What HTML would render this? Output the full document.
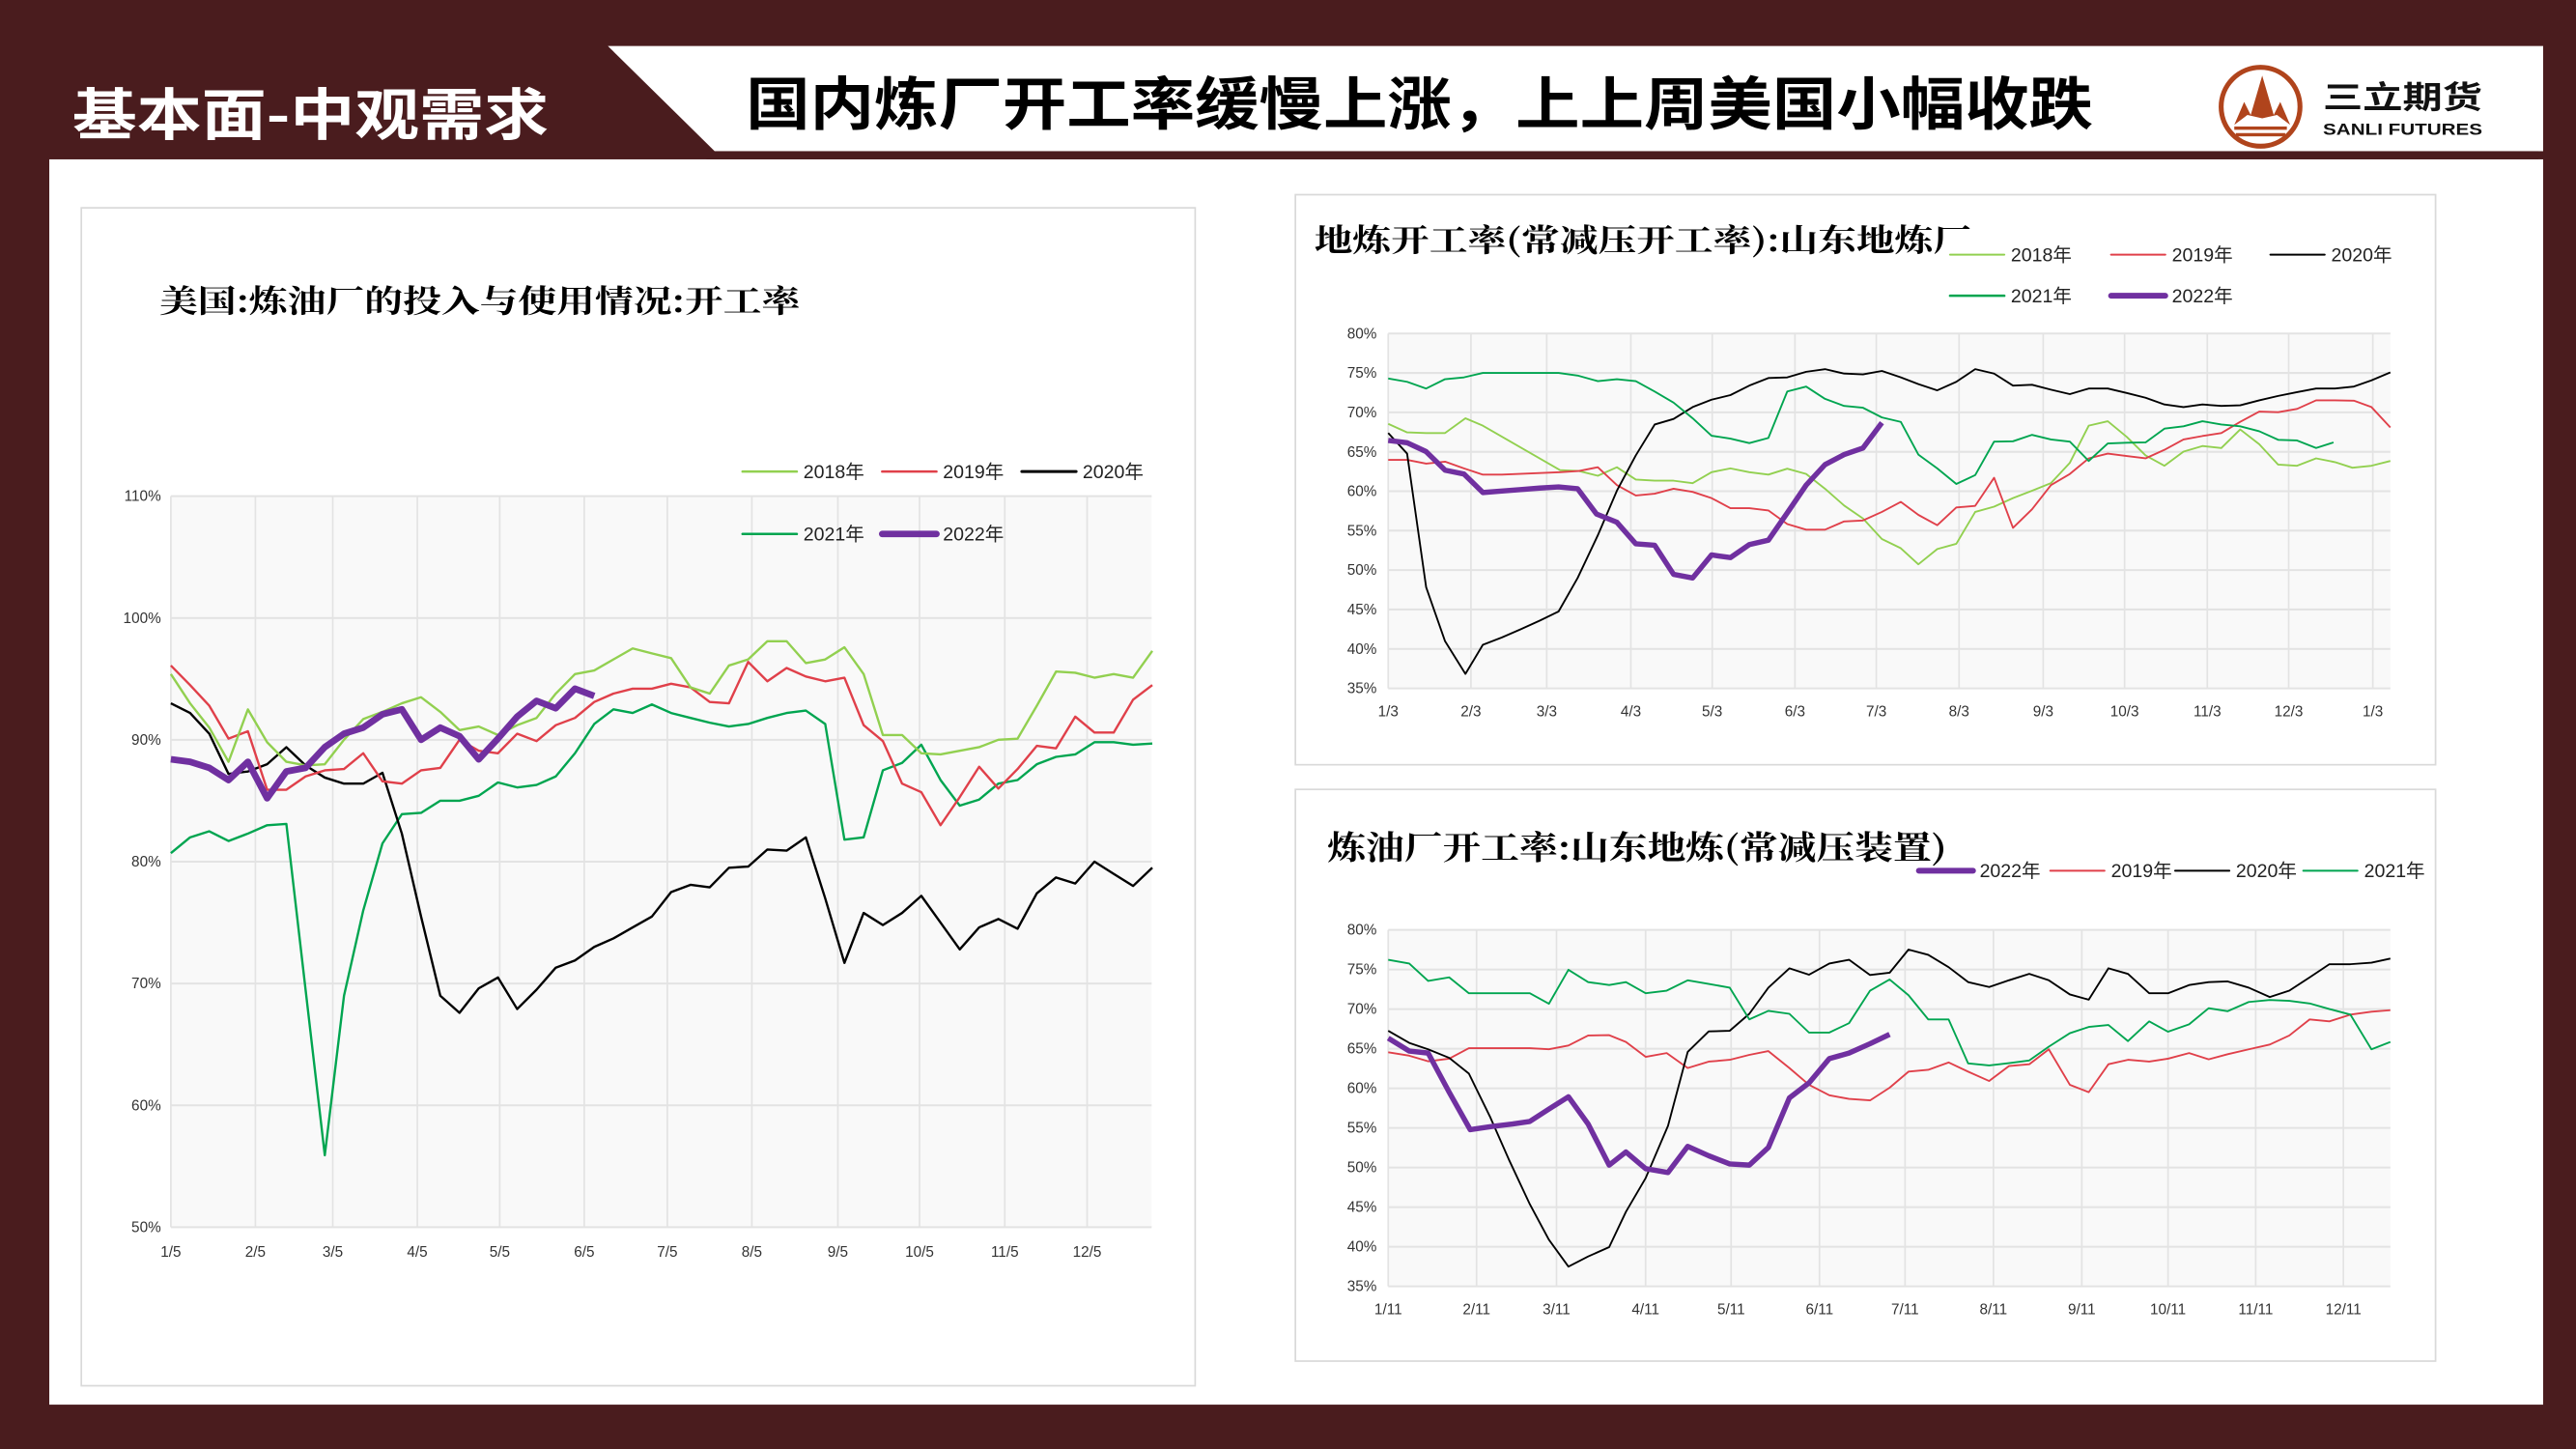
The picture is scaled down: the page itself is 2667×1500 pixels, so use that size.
<!DOCTYPE html>
<html><head><meta charset="utf-8">
<style>
html,body{margin:0;padding:0;background:#4a1c1e;}
svg{display:block;}
text{font-family:"Liberation Sans","Noto Sans CJK SC",sans-serif;}
.cj{font-family:"Noto Serif CJK SC","Noto Sans CJK SC",serif;font-weight:bold;}
.tk{font-family:"Liberation Sans Narrow","Liberation Sans",sans-serif;font-size:9px;fill:#333;}
.lg{font-family:"Liberation Sans Narrow","Liberation Sans","Noto Sans CJK SC",sans-serif;font-size:11.5px;fill:#222;}
</style></head>
<body>
<svg id="s" width="2667" height="1500" viewBox="0 0 1568 882" preserveAspectRatio="none" xmlns="http://www.w3.org/2000/svg">
<rect x="0" y="0" width="1568" height="882" fill="#4a1c1e"/>
<rect x="30" y="97" width="1518" height="758" fill="#ffffff"/>
<polygon points="370,28 1548,28 1548,92 435,92" fill="#ffffff"/>
<rect x="430" y="92" width="1115" height="5" fill="#4a1c1e"/>
<text x="44" y="82" font-size="34" fill="#ffffff" textLength="290" lengthAdjust="spacingAndGlyphs" style="font-family:'Noto Sans CJK SC',sans-serif;font-weight:bold">基本面-中观需求</text>
<text x="454" y="76" font-size="35" fill="#000" textLength="820" lengthAdjust="spacingAndGlyphs" style="font-family:'Noto Sans CJK SC',sans-serif;font-weight:bold">国内炼厂开工率缓慢上涨，上上周美国小幅收跌</text>
<circle cx="1376" cy="65" r="24" fill="#fff" stroke="#b0441c" stroke-width="3"/>
<polygon points="1360,76 1366,62 1370,70 1377,46 1384,70 1388,62 1394,76 1386,70 1377,72 1368,70" fill="#b0441c"/>
<rect x="1360" y="77" width="32" height="2" fill="#b0441c"/><rect x="1361" y="81" width="30" height="2" fill="#b0441c"/>
<text x="1414" y="66" font-size="19" font-weight="bold" fill="#111" textLength="97" lengthAdjust="spacingAndGlyphs" style="font-family:'Noto Sans CJK SC',sans-serif">三立期货</text>
<text x="1414" y="82" font-size="9.5" font-weight="bold" fill="#111" textLength="97" lengthAdjust="spacingAndGlyphs">SANLI FUTURES</text>
<rect x="49.5" y="126.5" width="678" height="717" fill="#fff" stroke="#d9d9d9"/>
<rect x="788.5" y="118.5" width="694" height="347" fill="#fff" stroke="#d9d9d9"/>
<rect x="788.5" y="480.5" width="694" height="348" fill="#fff" stroke="#d9d9d9"/>
<text x="97" y="190" font-size="19" class="cj" textLength="390" lengthAdjust="spacingAndGlyphs">美国:炼油厂的投入与使用情况:开工率</text>
<text x="800" y="153" font-size="19" class="cj" textLength="400" lengthAdjust="spacingAndGlyphs">地炼开工率(常减压开工率):山东地炼厂</text>
<text x="808" y="523" font-size="20" class="cj" textLength="377" lengthAdjust="spacingAndGlyphs">炼油厂开工率:山东地炼(常减压装置)</text>
<g id="g"></g>
</svg>
<script>
var NS="http://www.w3.org/2000/svg",G=document.getElementById("g");
function el(t,a,txt){var e=document.createElementNS(NS,t);for(var k in a)e.setAttribute(k,a[k]);if(txt!=null)e.textContent=txt;G.appendChild(e);return e;}
var C={y18:"#92d050",y19:"#e0404a",y20:"#000",y21:"#00a550",y22:"#7030a0"};
function lg(x,y,c,w,t){el("line",{x1:x,y1:y,x2:x+33,y2:y,stroke:c,"stroke-width":w,"stroke-linecap":"round"});el("text",{x:x+37,y:y+4,"class":"lg"},t);}
(function(){
 var L=104,R=701,T=302,B=747;
 el("rect",{x:L,y:T,width:R-L,height:B-T,fill:"#f9f9f9"});
 var mz=[133,251,359,477,592,710,826,944,1064,1178,1297,1412],ml=["1/5","2/5","3/5","4/5","5/5","6/5","7/5","8/5","9/5","10/5","11/5","12/5"];
 function X(z){return L+(z-133)/(1502-133)*(R-L);}
 mz.forEach(function(z,i){var x=X(z);el("line",{x1:x,y1:T,x2:x,y2:B,stroke:"#e3e3e3","stroke-width":1});el("text",{x:x,y:B+18,"class":"tk","text-anchor":"middle"},ml[i]);});
 for(var v=50;v<=110;v+=10){var y=T+(110-v)/60*(B-T);el("line",{x1:L,y1:y,x2:R,y2:y,stroke:"#e3e3e3","stroke-width":1.2});el("text",{x:L-6,y:y+3,"class":"tk","text-anchor":"end"},v+"%");}
 var D={
 y18:[95.4,93,91,88.2,92.5,89.8,88.2,87.9,88,90,91.7,92.3,93,93.5,92.3,90.8,91.1,90.4,91.2,91.8,93.8,95.4,95.7,96.6,97.5,97.1,96.7,94.3,93.8,96.1,96.6,98.1,98.1,96.3,96.6,97.6,95.4,90.4,90.4,88.9,88.8,89.1,89.4,90,90.1,92.8,95.6,95.5,95.1,95.4,95.1,97.3],
 y19:[96.1,94.5,92.8,90.1,90.7,85.9,85.9,87,87.5,87.6,88.9,86.6,86.4,87.5,87.7,90,89.1,88.9,90.5,89.9,91.2,91.8,93.1,93.8,94.2,94.2,94.6,94.3,93.1,93,96.4,94.8,95.9,95.2,94.8,95.1,91.2,89.9,86.4,85.7,83,85.3,87.8,86,87.6,89.5,89.3,91.9,90.6,90.6,93.3,94.5],
 y20:[93,92.2,90.5,87.2,87.4,88,89.4,87.9,86.9,86.4,86.4,87.3,82.3,75.5,69,67.6,69.6,70.5,67.9,69.5,71.3,71.9,73,73.7,74.6,75.5,77.5,78.1,77.9,79.5,79.6,81,80.9,82,77,71.7,75.8,74.8,75.8,77.2,75,72.8,74.6,75.3,74.5,77.4,78.7,78.2,80,79,78,79.5],
 y21:[80.7,82,82.5,81.7,82.3,83,83.1,69.5,55.9,69,76,81.5,83.9,84,85,85,85.4,86.5,86.1,86.3,87,88.9,91.3,92.5,92.2,92.9,92.2,91.8,91.4,91.1,91.3,91.8,92.2,92.4,91.3,81.8,82,87.5,88.1,89.6,86.7,84.6,85.1,86.4,86.7,88,88.6,88.8,89.8,89.8,89.6,89.7],
 y22:[88.4,88.2,87.7,86.7,88.2,85.2,87.4,87.7,89.4,90.5,91,92.1,92.5,90,91,90.3,88.4,90.1,91.9,93.2,92.6,94.2,93.6]};
 ["y21","y20","y19","y18","y22"].forEach(function(k){var p=D[k].map(function(v,i){return X(133+i*26.86).toFixed(1)+","+(T+(110-v)/60*(B-T)).toFixed(1);}).join(" ");
  el("polyline",{points:p,fill:"none",stroke:C[k],"stroke-width":k=="y22"?4:1.4,"stroke-linejoin":"round"});});
 lg(452,287,C.y18,1.5,"2018年");lg(537,287,C.y19,1.5,"2019年");lg(622,287,C.y20,1.8,"2020年");
 lg(452,325,C.y21,1.5,"2021年");lg(537,325,C.y22,4,"2022年");
})();
function chart(L,R,T,B,zB,zT,mz,ml,D,order){
 el("rect",{x:L,y:T,width:R-L,height:B-T,fill:"#f9f9f9"});
 function X(z){return L+(z-133)/(1562-133)*(R-L);}
 function Y(z){return T+(z-zT)/(zB-zT)*(B-T);}
 mz.forEach(function(z,i){var x=X(z);el("line",{x1:x,y1:T,x2:x,y2:B,stroke:"#e3e3e3","stroke-width":1});el("text",{x:x,y:B+17,"class":"tk","text-anchor":"middle"},ml[i]);});
 for(var v=35;v<=80;v+=5){var y=T+(80-v)/45*(B-T);el("line",{x1:L,y1:y,x2:R,y2:y,stroke:"#e3e3e3","stroke-width":1.2});el("text",{x:L-7,y:y+3,"class":"tk","text-anchor":"end"},v+"%");}
 order.forEach(function(k){var a=D[k],p=[];for(var i=0;i<a.length;i+=2)p.push(X(a[i]).toFixed(1)+","+Y(a[i+1]).toFixed(1));
  el("polyline",{points:p.join(" "),fill:"none",stroke:C[k],"stroke-width":k=="y22"?3.2:1.1,"stroke-linejoin":"round"});});
}
chart(845,1455,203,419,1337,382,[133,251,359,479,595,713,829,947,1067,1183,1301,1417,1537],["1/3","2/3","3/3","4/3","5/3","6/3","7/3","8/3","9/3","10/3","11/3","12/3","1/3"],{
y18:[133,625,160,648,187,650,214,650,243,610,268,630,378,750,405,752,432,765,459,742,486,775,513,778,540,778,567,785,594,755,621,745,648,755,675,762,702,746,729,760,756,800,783,845,810,880,837,935,864,960,889,1003,916,962,943,948,970,862,997,848,1024,825,1051,805,1078,785,1105,730,1132,630,1159,618,1186,660,1213,710,1240,738,1267,700,1294,685,1321,690,1348,640,1375,680,1402,735,1429,738,1456,718,1483,728,1508,743,1535,738,1562,725],
y19:[133,722,160,722,187,732,214,727,241,745,268,762,295,762,378,755,405,752,432,742,459,790,486,818,513,813,540,800,567,808,594,825,621,852,648,852,675,858,702,895,729,910,756,910,783,888,810,885,837,862,864,835,889,870,916,898,943,850,970,846,997,770,1024,905,1051,855,1078,790,1105,760,1132,718,1159,705,1186,712,1213,718,1240,695,1267,667,1294,658,1321,650,1348,620,1375,592,1402,594,1429,585,1456,562,1483,562,1510,563,1535,580,1562,635],
y20:[133,650,160,705,187,1065,214,1210,243,1298,268,1220,295,1200,322,1178,349,1155,376,1130,403,1040,432,925,459,805,486,710,513,627,540,612,567,580,594,560,621,548,648,522,675,502,702,500,729,485,756,478,783,490,810,492,837,483,864,500,889,518,916,535,943,512,970,478,997,490,1024,522,1051,520,1078,533,1105,545,1132,530,1159,530,1186,542,1213,555,1240,573,1267,580,1294,573,1321,577,1348,575,1375,562,1402,550,1429,540,1456,530,1483,530,1510,525,1535,508,1562,487],
y21:[133,503,160,512,187,530,214,505,241,500,268,488,295,488,322,488,349,488,376,488,403,495,432,510,459,505,486,510,513,538,540,568,567,610,594,657,621,665,648,677,675,663,702,538,729,525,756,558,783,577,810,582,837,608,864,620,889,708,916,745,943,787,970,763,997,673,1024,672,1051,655,1078,667,1105,673,1132,725,1159,678,1186,676,1213,675,1240,638,1267,632,1294,618,1321,627,1348,632,1375,645,1402,668,1429,670,1456,690,1481,675],
y22:[133,670,160,676,187,700,214,750,241,760,268,810,295,806,322,802,349,798,376,795,403,800,430,868,459,890,486,948,513,952,540,1030,567,1040,594,978,621,985,648,950,675,938,702,865,729,790,756,735,783,708,810,690,837,622]},["y18","y19","y20","y21","y22"]);
lg(1187,155,C.y18,1.2,"2018年");lg(1285,155,C.y19,1.2,"2019年");lg(1382,155,C.y20,1.2,"2020年");
lg(1187,180,C.y21,1.5,"2021年");lg(1285,180,C.y22,3.5,"2022年");
chart(845,1455,566,783,1340,385,[133,259,373,500,622,748,870,996,1122,1245,1370,1495],["1/11","2/11","3/11","4/11","5/11","6/11","7/11","8/11","9/11","10/11","11/11","12/11"],{
y22:[133,675,163,710,190,715,220,820,250,920,280,912,310,905,335,898,362,865,390,832,418,905,448,1015,472,980,500,1025,532,1035,560,965,590,990,620,1012,648,1015,675,968,705,835,733,795,762,730,790,715,820,690,848,665],
y19:[133,713,163,722,190,737,220,730,248,702,278,702,305,702,335,702,362,705,390,695,418,668,448,667,472,685,500,725,530,715,560,755,590,738,620,733,648,720,675,710,705,755,733,800,762,828,790,838,820,842,848,808,875,765,903,760,932,740,960,765,990,790,1018,750,1047,745,1075,705,1105,800,1132,820,1160,745,1188,733,1218,738,1245,730,1275,715,1303,732,1330,718,1360,705,1390,692,1418,668,1447,625,1475,630,1505,612,1535,604,1562,600],
y20:[133,655,163,688,190,705,220,728,248,770,278,885,305,1000,335,1120,362,1215,390,1287,418,1260,448,1235,472,1140,500,1050,532,910,560,712,590,657,620,655,648,610,675,540,705,488,733,505,762,475,790,465,820,506,848,500,875,438,903,452,932,485,960,525,990,538,1018,520,1047,503,1075,520,1105,558,1132,572,1160,488,1188,503,1218,555,1245,555,1275,533,1303,525,1330,523,1360,540,1390,565,1418,548,1447,512,1475,477,1505,477,1535,473,1562,462],
y21:[133,465,163,475,190,522,220,512,248,555,278,555,305,555,335,555,362,583,390,492,418,525,448,533,472,525,500,555,530,548,560,520,590,530,620,540,648,625,675,602,705,610,733,660,762,660,790,635,820,548,848,518,875,560,903,625,932,625,960,743,990,748,1018,742,1047,735,1075,698,1105,662,1132,645,1160,640,1188,683,1218,630,1245,658,1275,638,1303,595,1330,603,1360,578,1390,573,1418,575,1447,582,1475,597,1505,612,1535,705,1562,685]},["y19","y20","y21","y22"]);
lg(1168,530,C.y22,3.5,"2022年");lg(1248,530,C.y19,1.2,"2019年");lg(1324,530,C.y20,1.2,"2020年");lg(1402,530,C.y21,1.2,"2021年");
</script>
</body></html>
